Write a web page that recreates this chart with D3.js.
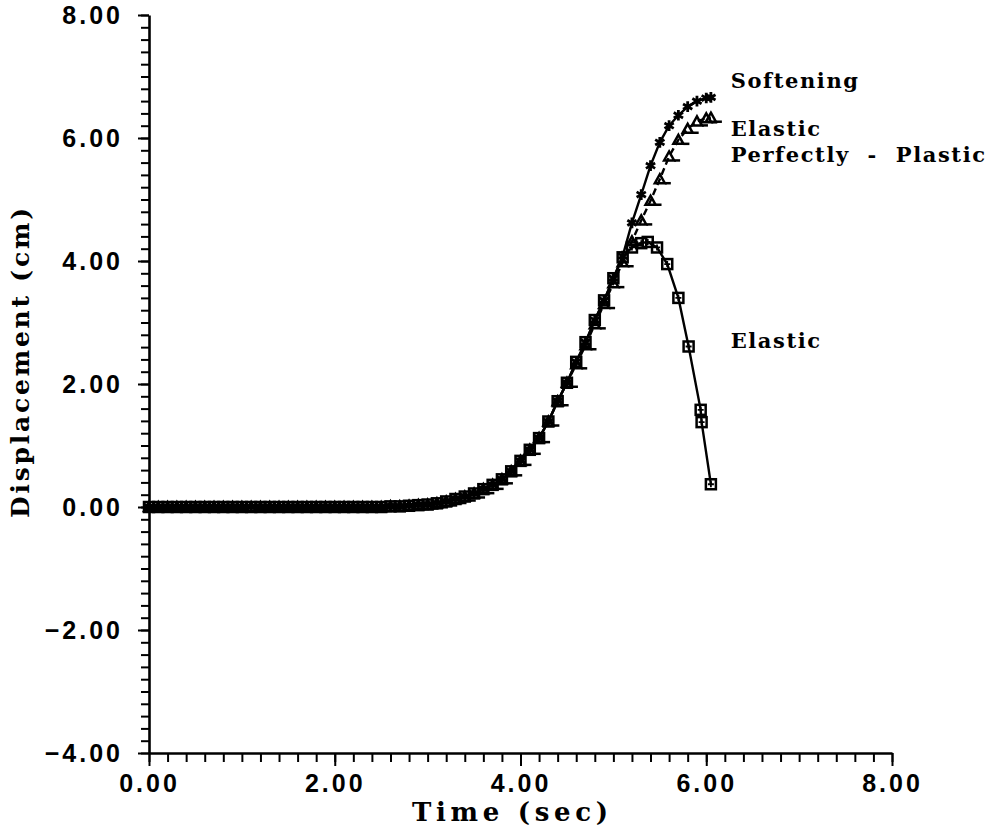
<!DOCTYPE html>
<html>
<head>
<meta charset="utf-8">
<script src="https://cdn.jsdelivr.net/npm/d3@7"></script>
<style>
  body { margin: 0; background: #fff; }
  svg { display: block; }
</style>
</head>
<body>
<div id="chart"></div>
<script>
// shared part of the three responses (identical until ~4.5 s)
const sharedTime = [
  0.0, 0.1, 0.2, 0.3, 0.4, 0.5, 0.6, 0.7, 0.8, 0.9,
  1.0, 1.1, 1.2, 1.3, 1.4, 1.5, 1.6, 1.7, 1.8, 1.9,
  2.0, 2.1, 2.2, 2.3, 2.4, 2.5, 2.6, 2.7, 2.8, 2.9,
  3.0, 3.1, 3.2, 3.3, 3.4, 3.5, 3.6, 3.7, 3.8, 3.9,
  4.0, 4.1, 4.2, 4.3, 4.4, 4.5
]
const sharedDisp = [
  0.00, 0.00, 0.00, 0.00, 0.00, 0.00, 0.00, 0.00, 0.00, 0.00,
  0.00, 0.00, 0.00, 0.00, 0.00, 0.00, 0.00, 0.00, 0.00, 0.00,
  0.00, 0.00, 0.00, 0.00, 0.00, 0.00, 0.01, 0.01, 0.02, 0.03,
  0.04, 0.06, 0.09, 0.13, 0.17, 0.22, 0.29, 0.36, 0.45, 0.58,
  0.75, 0.93, 1.12, 1.39, 1.72, 2.02
]

// Softening
const softTime = [4.6, 4.7, 4.8, 4.9, 5.0, 5.1, 5.2, 5.3, 5.4, 5.5, 5.6, 5.7, 5.8, 5.9, 6.0, 6.05]
const softDisp = [2.36, 2.68, 3.04, 3.36, 3.72, 4.08, 4.62, 5.08, 5.55, 5.93, 6.20, 6.37, 6.51, 6.60, 6.65, 6.66]

// Elastic Perfectly - Plastic
const eppTime = [4.6, 4.7, 4.8, 4.9, 5.0, 5.1, 5.2, 5.3, 5.4, 5.5, 5.6, 5.7, 5.8, 5.9, 6.0, 6.05]
const eppDisp = [2.32, 2.63, 2.97, 3.30, 3.64, 3.98, 4.32, 4.66, 4.98, 5.33, 5.70, 5.97, 6.15, 6.27, 6.32, 6.33]

// Elastic
const elasticTime = [4.6, 4.7, 4.8, 4.9, 5.0, 5.1, 5.2, 5.3, 5.37, 5.47, 5.58, 5.70, 5.81, 5.94, 5.95, 6.05]
const elasticDisp = [2.36, 2.68, 3.04, 3.36, 3.72, 4.06, 4.22, 4.29, 4.31, 4.22, 3.95, 3.40, 2.61, 1.58, 1.38, 0.37]

const xTicks = [0, 2, 4, 6, 8]
const yTicks = [-4, -2, 0, 2, 4, 6, 8]

// curve labels placed in data units
const labels = [
  { text: 'Softening', t: 6.22, d: 6.82 },
  { text: 'Elastic', t: 6.22, d: 6.04 },
  { text: 'Perfectly  -  Plastic', t: 6.22, d: 5.61 },
  { text: 'Elastic', t: 6.22, d: 2.59 }
]

const W = 992
const H = 829

const svg = d3
  .select('#chart')
  .append('svg')
  .attr('width', W)
  .attr('height', H)

const x = d3.scaleLinear().domain([0, 8]).range([149, 892])
const y = d3.scaleLinear().domain([-4, 8]).range([753, 15])

function toPoints(times, disps) {
  return times.map((t, i) => ({ t: t, d: disps[i] }))
}

const series = [
  { key: 'soft', pts: toPoints(sharedTime.concat(softTime), sharedDisp.concat(softDisp)), dash: null },
  { key: 'epp', pts: toPoints(sharedTime.concat(eppTime), sharedDisp.concat(eppDisp)), dash: '7,4' },
  { key: 'elastic', pts: toPoints(sharedTime.concat(elasticTime), sharedDisp.concat(elasticDisp)), dash: null }
]

const line = d3
  .line()
  .x(d => x(d.t))
  .y(d => y(d.d))

svg
  .selectAll('.series-line')
  .data(series)
  .enter()
  .append('path')
  .attr('class', 'series-line')
  .attr('d', d => line(d.pts))
  .attr('fill', 'none')
  .attr('stroke', '#000')
  .attr('stroke-width', 2.4)
  .attr('stroke-dasharray', d => d.dash)

// markers
series.forEach(s => {
  const g = svg
    .selectAll('.m-' + s.key)
    .data(s.pts)
    .enter()
    .append('g')
    .attr('class', 'm-' + s.key)
    .attr('transform', d => 'translate(' + x(d.t) + ',' + y(d.d) + ')')
    .attr('fill', 'none')
    .attr('stroke', '#000')
    .attr('stroke-width', 2.5)

  if (s.key === 'soft') {
    g.append('path').attr('d', d3.symbol().type(d3.symbolAsterisk).size(80)).attr('stroke-width', 2.8)
  } else if (s.key === 'epp') {
    g.append('path').attr('d', 'M0,-5L5,4L-5,4Z')
    g.append('path').attr('d', 'M5,4L11,4')
  } else {
    g.append('rect').attr('x', -5).attr('y', -5).attr('width', 10).attr('height', 10)
    g.append('path').attr('d', 'M0,-3V3M-3,0H3').attr('stroke-width', 1.8)
  }
})

// axes
const yMinor = d3.range(-4, 8.001, 0.2)
const xMinor = d3.range(0, 8.001, 0.2)

const yAxisG = svg.append('g').attr('transform', 'translate(' + x(0) + ',0)')
yAxisG.call(d3.axisLeft(y).tickValues(yMinor).tickSize(8).tickFormat('').tickSizeOuter(0))
yAxisG.call(g => g.select('.domain').remove())
const yMajorG = svg.append('g').attr('transform', 'translate(' + x(0) + ',0)')
yMajorG.call(d3.axisLeft(y).tickValues(yTicks).tickSize(11).tickPadding(15).tickFormat(d3.format('.2f')).tickSizeOuter(0))

const xAxisG = svg.append('g').attr('transform', 'translate(0,' + y(-4) + ')')
xAxisG.call(d3.axisBottom(x).tickValues(xMinor).tickSize(9).tickFormat('').tickSizeOuter(0))
xAxisG.call(g => g.select('.domain').remove())
const xMajorG = svg.append('g').attr('transform', 'translate(0,' + y(-4) + ')')
xMajorG.call(d3.axisBottom(x).tickValues(xTicks).tickSize(13).tickPadding(8).tickFormat(d3.format('.2f')).tickSizeOuter(0))

svg.selectAll('.domain').attr('stroke', '#000').attr('stroke-width', 2.6)
svg.selectAll('.tick line').attr('stroke', '#000').attr('stroke-width', 2)
svg
  .selectAll('.tick text')
  .attr('fill', '#000')
  .style('font-family', '"Liberation Sans", Arial, sans-serif')
  .style('font-weight', 'bold')
  .style('font-size', '25px')
  .style('letter-spacing', '3px')
yMajorG.selectAll('.tick text').text(d => (d < 0 ? '\u2212' : '') + d3.format('.2f')(Math.abs(d)))

// axis titles
svg
  .append('text')
  .text('Time (sec)')
  .attr('x', 510)
  .attr('y', 821)
  .attr('text-anchor', 'middle')
  .attr('textLength', 196)
  .style('font-family', '"DejaVu Serif", serif')
  .style('font-weight', 'bold')
  .style('font-size', '26px')

svg
  .append('text')
  .text('Displacement (cm)')
  .attr('transform', 'translate(29,' + 363 + ') rotate(-90)')
  .attr('text-anchor', 'middle')
  .attr('textLength', 310)
  .style('font-family', '"DejaVu Serif", serif')
  .style('font-weight', 'bold')
  .style('font-size', '25px')

// curve labels
svg
  .selectAll('.curve-label')
  .data(labels)
  .enter()
  .append('text')
  .attr('class', 'curve-label')
  .attr('x', d => x(d.t) + 4)
  .attr('y', d => y(d.d))
  .text(d => d.text)
  .style('white-space', 'pre')
  .style('font-family', '"DejaVu Serif", serif')
  .style('font-weight', 'bold')
  .style('font-size', '21px')
  .style('letter-spacing', '1.6px')
</script>
</body>
</html>
